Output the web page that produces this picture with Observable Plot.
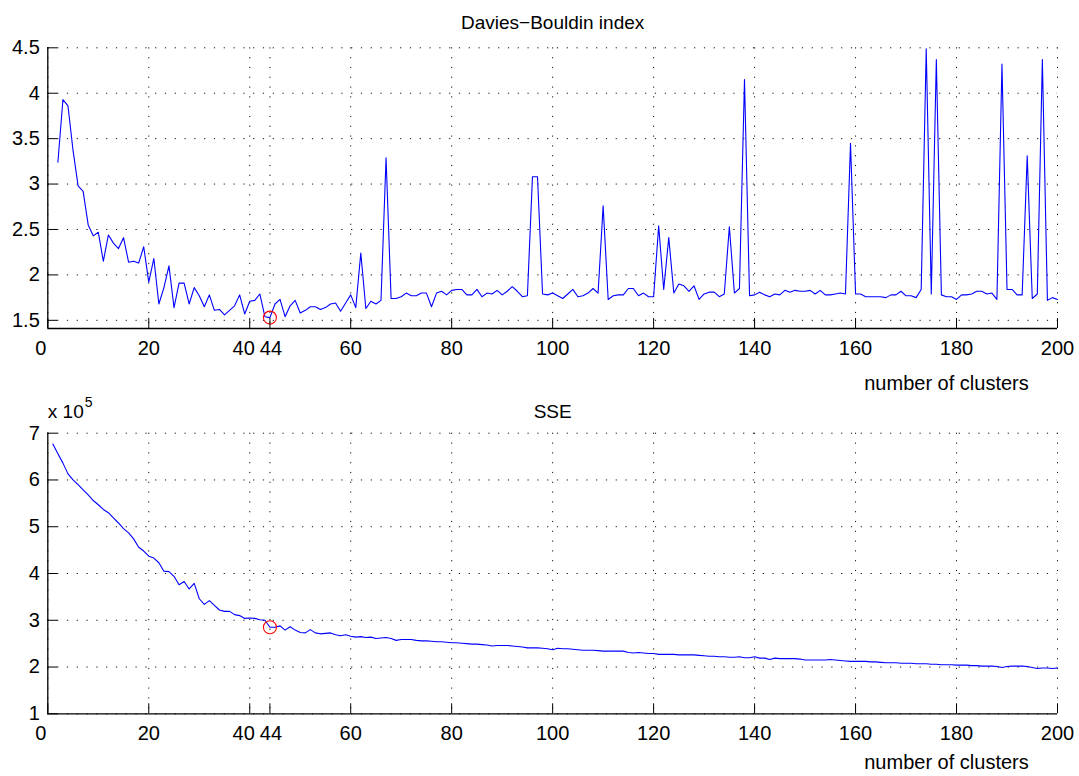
<!DOCTYPE html>
<html>
<head>
<meta charset="utf-8">
<script src="https://cdn.jsdelivr.net/npm/d3@7"></script>
<script src="https://cdn.jsdelivr.net/npm/@observablehq/plot@0.6"></script>
<style>
  html, body { margin: 0; padding: 0; background: #fff; }
  #chart { width: 1079px; height: 776px; }
  #chart svg { display: block; }
</style>
</head>
<body>
<div id="chart"></div>
<script>
// ---- data ----
const xTicks = [0, 20, 40, 44, 60, 80, 100, 120, 140, 160, 180, 200];
const dbTicks = [1.5, 2, 2.5, 3, 3.5, 4, 4.5];
const sseTicks = [1, 2, 3, 4, 5, 6, 7];
const bestK = 44;

// Davies-Bouldin index, k = 2..200
const dbStartK = 2;
const dbIndex = [
  3.24, 3.93, 3.86, 3.37, 2.98, 2.92, 2.55, 2.43, 2.47, 2.15,
  2.44, 2.35, 2.29, 2.41, 2.14, 2.15, 2.13, 2.31, 1.92, 2.18,
  1.68, 1.86, 2.10, 1.64, 1.91, 1.91, 1.68, 1.86, 1.77, 1.65,
  1.78, 1.61, 1.62, 1.56, 1.61, 1.66, 1.78, 1.57, 1.71, 1.72,
  1.79, 1.54, 1.53, 1.68, 1.73, 1.54, 1.66, 1.72, 1.58, 1.61,
  1.65, 1.65, 1.62, 1.64, 1.68, 1.69, 1.60, 1.69, 1.78, 1.64,
  2.24, 1.63, 1.71, 1.68, 1.72, 3.29, 1.74, 1.74, 1.76, 1.80,
  1.77, 1.77, 1.80, 1.80, 1.65, 1.80, 1.82, 1.78, 1.83, 1.84,
  1.84, 1.78, 1.78, 1.84, 1.76, 1.80, 1.79, 1.83, 1.78, 1.82,
  1.87, 1.82, 1.76, 1.77, 3.08, 3.08, 1.79, 1.78, 1.80, 1.77,
  1.74, 1.79, 1.84, 1.76, 1.77, 1.80, 1.85, 1.80, 2.76, 1.73,
  1.77, 1.78, 1.78, 1.85, 1.85, 1.77, 1.80, 1.76, 1.76, 2.54,
  1.84, 2.41, 1.80, 1.90, 1.88, 1.82, 1.88, 1.73, 1.79, 1.81,
  1.81, 1.76, 1.79, 2.53, 1.80, 1.85, 4.15, 1.77, 1.78, 1.81,
  1.78, 1.76, 1.79, 1.78, 1.83, 1.81, 1.83, 1.82, 1.82, 1.83,
  1.79, 1.83, 1.78, 1.78, 1.79, 1.80, 1.79, 3.45, 1.79, 1.79,
  1.76, 1.76, 1.76, 1.76, 1.75, 1.78, 1.78, 1.82, 1.77, 1.77,
  1.75, 1.84, 4.49, 1.79, 4.37, 1.78, 1.76, 1.76, 1.73, 1.78,
  1.78, 1.79, 1.82, 1.82, 1.79, 1.80, 1.73, 4.32, 1.84, 1.84,
  1.78, 1.78, 3.31, 1.74, 1.79, 4.37, 1.72, 1.75, 1.73
];

// SSE (x 10^5), k = 1..200
const sseStartK = 1;
const sse = [
  6.77, 6.56, 6.36, 6.13, 6.00, 5.90, 5.79, 5.68, 5.56, 5.47,
  5.37, 5.30, 5.19, 5.08, 4.96, 4.87, 4.74, 4.56, 4.48, 4.37,
  4.33, 4.23, 4.05, 4.04, 3.94, 3.76, 3.83, 3.67, 3.79, 3.46,
  3.34, 3.42, 3.32, 3.22, 3.19, 3.19, 3.12, 3.10, 3.04, 3.05,
  3.04, 3.01, 3.00, 2.85, 2.85, 2.88, 2.79, 2.86, 2.79, 2.74,
  2.73, 2.80, 2.73, 2.71, 2.72, 2.73, 2.69, 2.67, 2.69, 2.66,
  2.64, 2.65, 2.63, 2.64, 2.61, 2.62, 2.63, 2.61, 2.57, 2.59,
  2.59, 2.59, 2.57, 2.56, 2.56, 2.55, 2.54, 2.54, 2.53, 2.52,
  2.52, 2.51, 2.50, 2.49, 2.49, 2.48, 2.47, 2.45, 2.46, 2.46,
  2.46, 2.45, 2.44, 2.43, 2.41, 2.41, 2.41, 2.40, 2.39, 2.37,
  2.40, 2.39, 2.39, 2.38, 2.37, 2.36, 2.36, 2.36, 2.35, 2.34,
  2.34, 2.34, 2.34, 2.34, 2.31, 2.30, 2.31, 2.30, 2.29, 2.29,
  2.27, 2.27, 2.27, 2.27, 2.26, 2.26, 2.26, 2.26, 2.25, 2.24,
  2.23, 2.23, 2.22, 2.22, 2.21, 2.21, 2.22, 2.20, 2.20, 2.22,
  2.19, 2.19, 2.16, 2.19, 2.18, 2.18, 2.18, 2.18, 2.17, 2.15,
  2.15, 2.15, 2.15, 2.15, 2.16, 2.15, 2.14, 2.13, 2.12, 2.12,
  2.12, 2.12, 2.11, 2.11, 2.10, 2.09, 2.09, 2.09, 2.08, 2.08,
  2.08, 2.07, 2.07, 2.07, 2.06, 2.06, 2.05, 2.05, 2.05, 2.04,
  2.04, 2.04, 2.03, 2.03, 2.02, 2.02, 2.02, 2.01, 1.99, 2.01,
  2.02, 2.02, 2.02, 2.01, 1.99, 1.97, 1.98, 1.98, 1.97, 1.98
];

const dbTitle = "Davies\u2212Bouldin index";
const sseTitle = "SSE";
const xLabel = "number of clusters";
const sseExpBase = "x 10";
const sseExp = "5";

const dbDomain = [1.41, 4.5];
const sseDomain = [1, 7];
const xDomain = [0, 200];

// ---- build ----
const W = 1079;
const FONT = "'Liberation Sans', Arial, Helvetica, sans-serif";
const dbData = dbIndex.map((v, i) => ({k: dbStartK + i, v}));
const sseData = sse.map((v, i) => ({k: sseStartK + i, v}));

// label nudges (MATLAB spreads crowded labels apart)
const labelShift = new Map([[0, -7], [40, -6], [44, 1]]);
const plainXTicks = xTicks.filter(t => !labelShift.has(t));

function panel({data, yDomain, yTicks, height, marginTop, marginBottom, title, titleDy, xLabelDy, extraMarks = []}) {
  const marginLeft = 47.3, marginRight = 22;
  const frameH = height - marginTop - marginBottom;
  const frameW = W - marginLeft - marginRight;
  const best = data.find(d => d.k === bestK);
  const dotStyle = {stroke: "#111", strokeOpacity: 1, strokeWidth: 1, strokeDasharray: "1.2,8.6"};
  const axisOpts = {tickSize: 0, tickPadding: 12, fontSize: 20, label: null, tickFormat: d => String(d)};
  return Plot.plot({
    width: W, height, marginLeft, marginRight, marginTop, marginBottom,
    style: {fontFamily: FONT, fontSize: "20px", color: "#000", background: "#fff", overflow: "visible"},
    x: {domain: xDomain},
    y: {domain: yDomain},
    marks: [
      Plot.gridX(xTicks, {...dotStyle}),
      Plot.gridY(yTicks, {...dotStyle}),
      Plot.line(data, {x: "k", y: "v", stroke: "#0000ff", strokeWidth: 1.1}),
      Plot.dot([best], {x: "k", y: "v", r: 6.5, stroke: "#ff0000", strokeWidth: 1.1, fill: "none"}),
      Plot.tickX(xTicks, {x: d => d, insetTop: frameH - 10, stroke: "#000", strokeWidth: 1}),
      Plot.tickY(yTicks, {y: d => d, insetRight: frameW - 10, stroke: "#000", strokeWidth: 1}),
      Plot.ruleY([yDomain[0]], {stroke: "#000", strokeWidth: 1.3}),
      Plot.ruleX([xDomain[0]], {stroke: "#000", strokeWidth: 1.3}),
      Plot.axisX({...axisOpts, ticks: plainXTicks}),
      ...[...labelShift].map(([t, dx]) => Plot.axisX({...axisOpts, ticks: [t], dx})),
      Plot.axisY({ticks: yTicks, tickSize: 0, tickPadding: 8, fontSize: 20, label: null, tickFormat: d => String(d)}),
      Plot.text([title], {text: d => d, frameAnchor: "top", dy: titleDy, fontSize: 19, fill: "#000"}),
      Plot.text([xLabel], {text: d => d, frameAnchor: "bottom-right", textAnchor: "middle", dx: -111, dy: xLabelDy, fontSize: 20, fill: "#000"}),
      ...extraMarks
    ]
  });
}

const chart = document.getElementById("chart");
chart.append(panel({
  data: dbData, yDomain: dbDomain, yTicks: dbTicks,
  height: 390, marginTop: 47.3, marginBottom: 62, title: dbTitle, titleDy: -32, xLabelDy: 61
}));
chart.append(panel({
  data: sseData, yDomain: sseDomain, yTicks: sseTicks,
  height: 386, marginTop: 42.7, marginBottom: 62.7, title: sseTitle, titleDy: -29, xLabelDy: 55,
  extraMarks: [
    Plot.text([sseExpBase], {text: d => d, frameAnchor: "top-left", textAnchor: "start", lineAnchor: "bottom", dx: 0, dy: -15, fontSize: 19, fill: "#000"}),
    Plot.text([sseExp], {text: d => d, frameAnchor: "top-left", textAnchor: "start", lineAnchor: "bottom", dx: 37, dy: -26, fontSize: 14, fill: "#000"})
  ]
}));
</script>
</body>
</html>
